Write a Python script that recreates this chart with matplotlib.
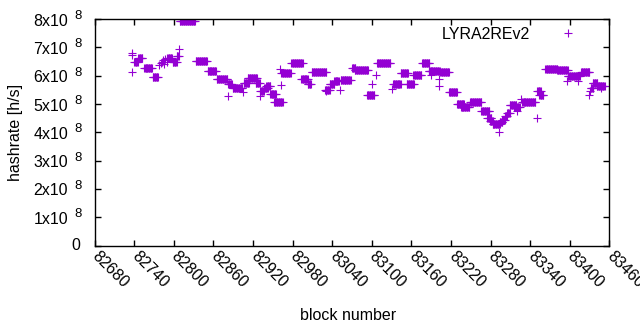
import numpy as np
import matplotlib.pyplot as plt
from matplotlib.transforms import ScaledTranslation

plt.rcParams['font.family'] = ['Liberation Sans', 'DejaVu Sans']

# runs of blocks sharing one hashrate estimate: start block, end block, hashrate (x1e8 h/s)
run_start = [82740, 82746, 82755, 82768, 82790, 82798, 82804, 82809, 82833, 82851,
             82865, 82882, 82889, 82906, 82912, 82924, 82931, 82937, 82940, 82946,
             82952, 82963, 82978, 82993, 83003, 83009, 83029, 83036, 83043, 83053,
             83060, 83070, 83074, 83093, 83108, 83132, 83144, 83153, 83163, 83176,
             83186, 83204, 83217, 83229, 83235, 83249, 83266, 83275, 83279, 83283,
             83294, 83298, 83302, 83305, 83309, 83316, 83328, 83351, 83354, 83363,
             83381, 83397, 83417, 83432, 83435, 83441]
run_end = [82745, 82752, 82767, 82776, 82797, 82804, 82807, 82832, 82850, 82864,
           82881, 82888, 82904, 82914, 82926, 82930, 82936, 82942, 82946, 82955,
           82965, 82977, 82995, 83003, 83008, 83031, 83036, 83043, 83050, 83060,
           83068, 83075, 83094, 83104, 83128, 83144, 83155, 83164, 83175, 83187,
           83203, 83217, 83229, 83240, 83248, 83266, 83278, 83281, 83283, 83294,
           83298, 83302, 83305, 83309, 83319, 83324, 83348, 83356, 83360, 83381,
           83397, 83415, 83430, 83436, 83442, 83453]
run_rate = [6.50, 6.62, 6.27, 5.96, 6.62, 6.47, 6.70, 7.93, 6.52, 6.17,
            5.87, 5.70, 5.58, 5.74, 5.92, 5.74, 5.45, 5.55, 5.64, 5.34,
            5.07, 6.10, 6.44, 5.88, 5.70, 6.13, 5.50, 5.72, 5.80, 5.85,
            5.86, 6.27, 6.22, 5.32, 6.46, 5.72, 6.09, 5.70, 6.03, 6.45,
            6.17, 6.13, 5.42, 5.00, 4.90, 5.08, 4.77, 4.52, 4.40, 4.30,
            4.35, 4.45, 4.58, 4.68, 4.95, 4.88, 5.08, 5.45, 5.32, 6.25,
            6.20, 5.98, 6.13, 5.58, 5.74, 5.64]

# isolated blocks
single_block = [82736, 82737, 82737, 82778, 82780, 82782, 82784, 82785, 82787, 82789,
                82808, 82882, 82905, 82930, 82961, 82963, 83030, 83052, 83100, 83107,
                83131, 83190, 83202, 83202, 83293, 83320, 83326, 83350, 83396, 83413,
                83430, 83431, 83448]
single_rate = [6.80, 6.13, 6.75, 6.37, 6.45, 6.50, 6.55, 6.42, 6.60, 6.48,
               6.96, 5.30, 5.43, 5.30, 6.25, 5.67, 5.45, 5.50, 5.70, 6.02,
               5.52, 6.02, 5.90, 5.62, 4.00, 4.75, 5.17, 4.52, 5.80, 5.80,
               5.32, 5.45, 5.55]

blocks = []
rates = []
for s, e, r in zip(run_start, run_end, run_rate):
    for b in range(s, e + 1):
        blocks.append(b)
        rates.append(r * 1e8)
blocks += single_block
rates += [r * 1e8 for r in single_rate]

purple = '#9400d3'
fs = 11.5

fig = plt.figure(figsize=(6.4, 3.3), dpi=100)
ax = fig.add_axes([0.148, 0.256, 0.804, 0.686])
ax.plot(blocks, rates, linestyle='none', marker='+', markersize=5.6,
        markeredgewidth=0.8, color=purple, label='LYRA2REv2')

ax.set_xlim(82680, 83460)
ax.set_ylim(0, 8e8)
xt = np.arange(82680, 83461, 60)
ax.set_xticks(xt)
ax.set_xticklabels([str(v) for v in xt], rotation=-45, ha='left', va='center',
                   rotation_mode='anchor', fontsize=fs)
shift = ScaledTranslation(0.0, -0.05, fig.dpi_scale_trans)
for lab in ax.get_xticklabels():
    lab.set_transform(lab.get_transform() + shift)

# y tick labels in gnuplot style: "Nx10" with a raised exponent
yt = np.arange(0, 9) * 1e8
ax.set_yticks(yt)
ax.set_yticklabels([])
ytrans = ax.get_yaxis_transform()
for i, v in enumerate(yt):
    if i == 0:
        ax.text(0, v, '0', ha='right', va='center', fontsize=fs,
                transform=ytrans + ScaledTranslation(-0.147, 0, fig.dpi_scale_trans))
        continue
    ax.text(0, v, '%dx10' % i, ha='right', va='center', fontsize=fs,
            transform=ytrans + ScaledTranslation(-0.265, -0.02, fig.dpi_scale_trans))
    ax.text(0, v, '8', ha='left', va='center', fontsize=fs * 0.82,
            transform=ytrans + ScaledTranslation(-0.205, 0.03, fig.dpi_scale_trans))

ax.tick_params(direction='in', length=4, width=1, top=True, right=True,
               colors='black', pad=6)
for sp in ax.spines.values():
    sp.set_linewidth(1)

fig.text(348 / 640, 1 - 316 / 330, 'block number', ha='center', va='center', fontsize=fs)
fig.text(16 / 640, 1 - 132 / 330, 'hashrate [h/s]', ha='center', va='center',
         rotation=90, fontsize=fs)
ax.legend(loc='upper right', markerfirst=False, frameon=False, fontsize=fs,
          handlelength=2.5, handletextpad=1.1, bbox_to_anchor=(0.98, 1.015),
          borderaxespad=0.3)

fig.savefig('out.png', dpi=100)
